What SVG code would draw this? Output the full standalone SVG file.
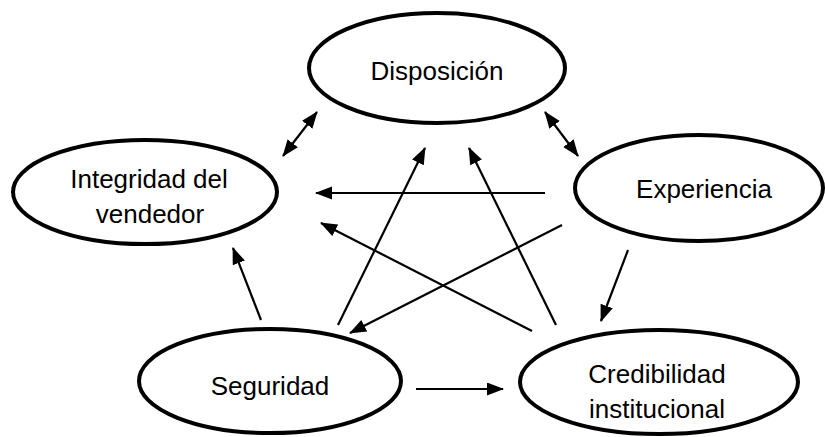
<svg xmlns="http://www.w3.org/2000/svg" width="825" height="437" viewBox="0 0 825 437">
<style>
.node ellipse{fill:#fff;stroke:#000;stroke-width:4}
.node text{font-family:"Liberation Sans",Arial,sans-serif;font-size:26px;fill:#000;text-anchor:middle}
.conn line{stroke:#000;stroke-width:2.2;fill:none}
</style>
<defs>
<marker id="ah" markerUnits="userSpaceOnUse" markerWidth="18" markerHeight="14" refX="16" refY="6.5" orient="auto-start-reverse">
<path d="M0,0 L17,6.5 L0,13 z" fill="#000"/>
</marker>
</defs>
<rect width="825" height="437" fill="#fff"/>
<g id="connectors" class="conn">
<line x1="283" y1="156" x2="317" y2="112" marker-start="url(#ah)" marker-end="url(#ah)"/>
<line x1="545" y1="112" x2="578" y2="156" marker-start="url(#ah)" marker-end="url(#ah)"/>
<line x1="545" y1="193" x2="316" y2="193" marker-end="url(#ah)"/>
<line x1="562" y1="225" x2="350" y2="333" marker-end="url(#ah)"/>
<line x1="532" y1="331" x2="321" y2="223" marker-end="url(#ah)"/>
<line x1="338" y1="325" x2="425" y2="148" marker-end="url(#ah)"/>
<line x1="556" y1="325" x2="469" y2="148" marker-end="url(#ah)"/>
<line x1="261" y1="320" x2="233" y2="248" marker-end="url(#ah)"/>
<line x1="628" y1="250" x2="601" y2="321" marker-end="url(#ah)"/>
<line x1="416" y1="389" x2="503" y2="389" marker-end="url(#ah)"/>
</g>
<g id="disposicion" class="node">
<ellipse cx="437" cy="68" rx="128" ry="55"/>
<text x="437" y="80">Disposición</text>
</g>
<g id="integridad" class="node">
<ellipse cx="145" cy="192" rx="132" ry="52"/>
<text x="149" y="188">Integridad del</text>
<text x="150" y="223">vendedor</text>
</g>
<g id="experiencia" class="node">
<ellipse cx="699" cy="188" rx="124" ry="53"/>
<text x="704" y="198">Experiencia</text>
</g>
<g id="seguridad" class="node">
<ellipse cx="270" cy="381" rx="131" ry="52"/>
<text x="270" y="395">Seguridad</text>
</g>
<g id="credibilidad" class="node">
<ellipse cx="659" cy="382" rx="139" ry="52"/>
<text x="657" y="383">Credibilidad</text>
<text x="657" y="418">institucional</text>
</g>
</svg>
